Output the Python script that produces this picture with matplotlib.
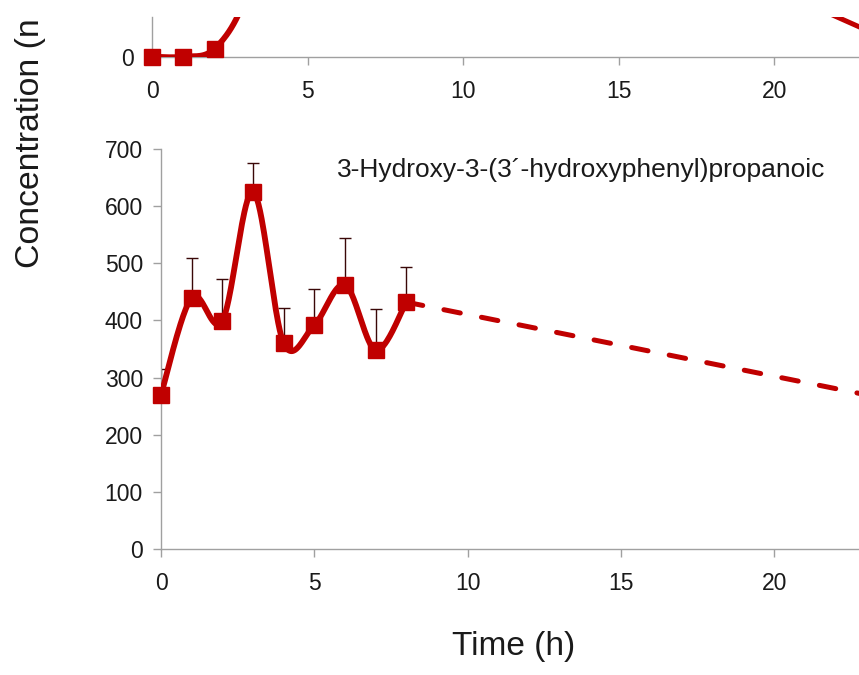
import numpy as np
import matplotlib
matplotlib.use("Agg")
import matplotlib.pyplot as plt

plt.rcParams["font.family"] = ["Liberation Sans", "DejaVu Sans"]

# ---- data -------------------------------------------------------------
# lower panel: 3-hydroxy-3-(3'-hydroxyphenyl)propanoic acid
time_h = [0, 1, 2, 3, 4, 5, 6, 7, 8]
conc_mean = [270, 440, 399, 625, 360, 392, 462, 348, 432]
conc_err_upper = [45, 69, 73, 50, 62, 63, 82, 72, 62]
trend_time = [8, 24]
trend_conc = [432, 259]

# upper panel (only its lower strip is shown)
upper_time = [0, 1, 2, 3, 4, 5, 6, 7, 8]
upper_conc = [0, 0, 40, 300, 900, 1100, 1000, 1150, 1176]
upper_trend_time = [8, 24]
upper_trend_conc = [1176, 62]

x_ticks = [0, 5, 10, 15, 20]
y_ticks = [0, 100, 200, 300, 400, 500, 600, 700]
compound_label = "3-Hydroxy-3-(3\u00b4-hydroxyphenyl)propanoic"
y_title = "Concentration (n"
x_title = "Time (h)"

RED = "#C00000"
GREY = "#A0A0A0"
TXT = "#1a1a1a"


def smooth_curve(xs, ys, n=40):
    """Catmull-Rom style smoothing, as used by spreadsheet 'smoothed line' charts."""
    P = np.column_stack([xs, ys]).astype(float)
    Pe = np.vstack([P[0], P, P[-1]])
    s = np.linspace(0, 1, n)[:, None]
    h00 = 2 * s**3 - 3 * s**2 + 1
    h10 = s**3 - 2 * s**2 + s
    h01 = -2 * s**3 + 3 * s**2
    h11 = s**3 - s**2
    segs = []
    for i in range(len(P) - 1):
        p0, p1, p2, p3 = Pe[i], Pe[i + 1], Pe[i + 2], Pe[i + 3]
        m1 = (p2 - p0) / 2
        m2 = (p3 - p1) / 2
        segs.append(h00 * p1 + h10 * m1 + h01 * p2 + h11 * m2)
    pts = np.vstack(segs)
    return pts[:, 0], pts[:, 1]


def style_axes(ax):
    for side in ("top", "right"):
        ax.spines[side].set_visible(False)
    for side in ("left", "bottom"):
        ax.spines[side].set_color(GREY)
        ax.spines[side].set_linewidth(1.0)
    ax.tick_params(axis="both", direction="out", length=6, width=1.0,
                   color=GREY, labelcolor=TXT, labelsize=16.5)
    ax.tick_params(axis="y", pad=7)
    ax.tick_params(axis="x", pad=10.5)
    ax.set_facecolor("none")


W, H = 859, 675
fig = plt.figure(figsize=(W / 100, H / 100), dpi=100)

# ---- lower panel ------------------------------------------------------
x0, y0 = 161, 549
px_per_h = 30.67
ax = fig.add_axes([x0 / W, (H - y0) / H, 24 * px_per_h / W, 400 / H])
ax.set_xlim(0, 24)
ax.set_ylim(0, 700)
ax.set_xticks(x_ticks)
ax.set_yticks(y_ticks)
style_axes(ax)

sx, sy = smooth_curve(time_h, conc_mean)
ax.plot(sx, sy, color=RED, lw=4.2, solid_capstyle="round",
        solid_joinstyle="round", zorder=3)
ax.plot(trend_time, trend_conc, color=RED, lw=3.6,
        linestyle=(0, (3.34, 4.32)), dash_capstyle="round", zorder=3)
ax.errorbar(time_h, conc_mean,
            yerr=[np.zeros(len(conc_mean)), conc_err_upper],
            fmt="none", ecolor="#3a0808", elinewidth=1.0,
            capsize=4.3, capthick=1.0, zorder=2)
ax.plot(time_h, conc_mean, linestyle="none", marker="s", markersize=11.5,
        color=RED, markeredgecolor=RED, zorder=4, clip_on=False)

ax.text((337 - x0) / (24 * px_per_h), (y0 - 177) / 400, compound_label,
        transform=ax.transAxes, fontsize=19, color=TXT,
        ha="left", va="baseline")

# ---- upper panel (strip) ---------------------------------------------
ux0, uy0, utop = 152.3, 56.7, 17
upx_per_h = 31.1
ax2 = fig.add_axes([ux0 / W, (H - uy0) / H, 24 * upx_per_h / W, (uy0 - utop) / H])
ax2.set_xlim(0, 24)
ax2.set_ylim(0, 200)
ax2.set_xticks(x_ticks)
ax2.set_yticks([0])
style_axes(ax2)

ux, uy = smooth_curve(upper_time, upper_conc)
ax2.plot(ux, uy, color=RED, lw=4.2, solid_capstyle="round", zorder=3)
ax2.plot(upper_trend_time, upper_trend_conc, color=RED, lw=3.6,
         solid_capstyle="round", zorder=3)
ax2.plot(upper_time[:3], upper_conc[:3], linestyle="none", marker="s",
         markersize=11.5, color=RED, markeredgecolor=RED, zorder=4,
         clip_on=False)

# ---- shared axis titles -----------------------------------------------
fig.text(514 / W, 1 - 647 / H, x_title, fontsize=24, color=TXT,
         ha="center", va="center")
fig.text(31 / W, 1 - 268 / H, y_title, fontsize=24.3, color=TXT,
         rotation=90, ha="center", va="bottom")

fig.savefig("out.png", dpi=100)
